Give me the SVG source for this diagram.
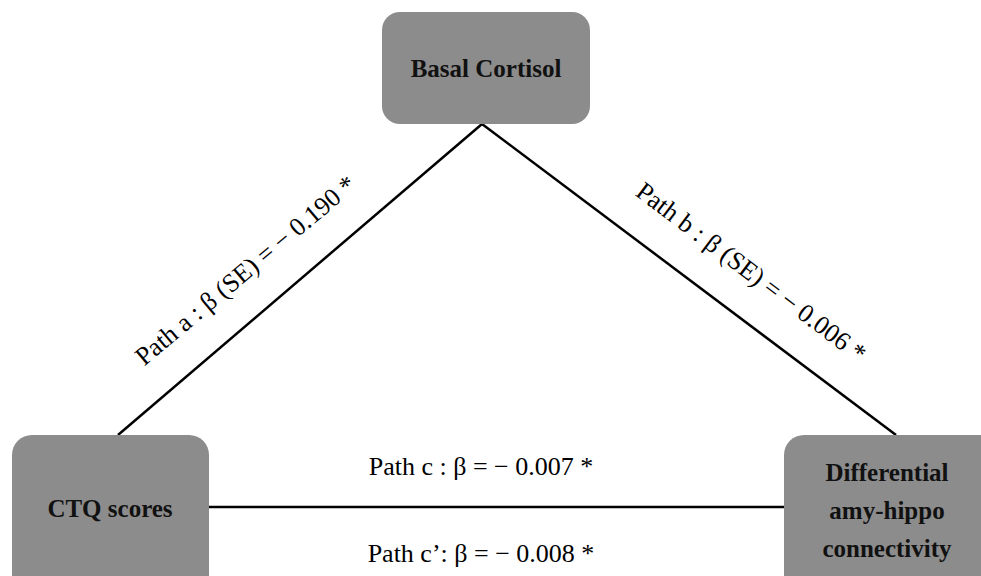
<svg xmlns="http://www.w3.org/2000/svg" width="981" height="576" viewBox="0 0 981 576">
<style>
.node{fill:#8c8c8c;}
.nt{font-family:"Liberation Serif","Times New Roman",serif;font-weight:bold;font-size:25px;fill:#111;text-anchor:middle;}
.lab{font-family:"Liberation Serif","Times New Roman",serif;font-size:26px;fill:#000;text-anchor:middle;}
.edge{stroke:#000;stroke-width:2.5;fill:none;}
</style>
<rect width="981" height="576" fill="#fff"/>
<g id="connectors">
<line class="edge" x1="118" y1="435" x2="482" y2="124"/>
<line class="edge" x1="482" y1="124" x2="896" y2="435"/>
<line class="edge" x1="209" y1="507" x2="784" y2="507"/>
<text class="lab" transform="translate(251,277) rotate(-40)">Path a : β (SE) = − 0.190 *</text>
<text class="lab" transform="translate(746,279) rotate(37)">Path b : β (SE) = − 0.006 *</text>
<text class="lab" x="481" y="475">Path c : β = − 0.007 *</text>
<text class="lab" x="481" y="562">Path c’: β = − 0.008 *</text>
</g>
<g id="basal">
<rect class="node" x="382" y="12" width="208" height="112" rx="18"/>
<text class="nt" x="486" y="77">Basal Cortisol</text>
</g>
<g id="ctq">
<rect class="node" x="12" y="435" width="197" height="160" rx="20"/>
<text class="nt" x="110" y="517">CTQ scores</text>
</g>
<g id="diff">
<rect class="node" x="784" y="435" width="220" height="160" rx="20"/>
<text class="nt" x="887" y="481">Differential</text>
<text class="nt" x="887" y="519">amy-hippo</text>
<text class="nt" x="887" y="557">connectivity</text>
</g>
</svg>
